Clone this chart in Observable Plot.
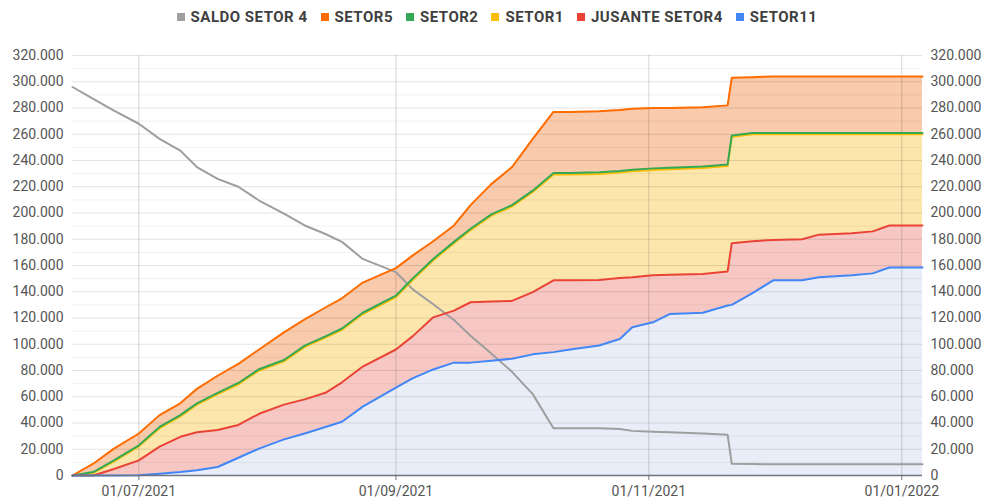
<!DOCTYPE html>
<html>
<head>
<meta charset="utf-8">
<script src="https://cdn.jsdelivr.net/npm/d3@7"></script>
<script src="https://cdn.jsdelivr.net/npm/@observablehq/plot@0.6"></script>
<style>
  html, body { margin: 0; padding: 0; background: #fff; }
  body { width: 986px; height: 502px; overflow: hidden; font-family: Roboto, "Noto Sans", sans-serif; }
  #legend { height: 34px; display: flex; justify-content: center; align-items: center; gap: 13px; padding-left: 8px; box-sizing: border-box; }
  .item { display: flex; align-items: center; font-size: 15px; font-weight: bold; color: #3f3f3f; letter-spacing: 0.5px; }
  .sw { width: 8px; height: 8px; margin-right: 6px; }
  #chart svg { display: block; }
</style>
</head>
<body>
<div id="legend"></div>
<div id="chart"></div>
<script>
// ---- data ----
const dates = [
  "2021-06-15","2021-06-20","2021-06-25","2021-07-01","2021-07-06","2021-07-11","2021-07-15",
  "2021-07-20","2021-07-25","2021-07-30","2021-08-05","2021-08-10","2021-08-15","2021-08-19",
  "2021-08-24","2021-09-01","2021-09-05","2021-09-10","2021-09-15","2021-09-19","2021-09-24",
  "2021-09-29","2021-10-04","2021-10-09","2021-10-13","2021-10-20","2021-10-25","2021-10-28",
  "2021-11-02","2021-11-06","2021-11-14","2021-11-20","2021-11-21","2021-11-26","2021-12-01",
  "2021-12-08","2021-12-12","2021-12-20","2021-12-25","2021-12-29","2022-01-06"
];
const saldoSetor4 = [
  296000, 287000, 278000, 268000, 256500, 247500, 235000,
  226000, 220000, 209500, 199500, 190500, 184000, 178000,
  165000, 155000, 142000, 130500, 118500, 106500, 93000,
  79000, 62000, 36000, 36000, 36000, 35500, 34000,
  33300, 33000, 32000, 31000, 9000, 8700, 8600,
  8500, 8500, 8500, 8500, 8500, 8500
];
const setor5 = [
  0, 9000, 20500, 32000, 46000, 55000, 66000,
  76000, 85000, 96000, 109000, 119000, 128000, 135000,
  147000, 158000, 167500, 178500, 190500, 206000, 222000,
  235000, 256500, 277000, 277000, 277500, 278500, 279500,
  280000, 280000, 280500, 282000, 303000, 303500, 304000,
  304000, 304000, 304000, 304000, 304000, 304000
];
const setor2 = [
  0, 2600, 11500, 23000, 37000, 46000, 55000,
  63000, 70500, 81000, 88000, 99000, 106000, 112000,
  124000, 137000, 150000, 165000, 178000, 188000, 199000,
  206000, 217000, 230500, 230500, 231000, 232000, 233000,
  234000, 234500, 235500, 237000, 259000, 261000, 261000,
  261000, 261000, 261000, 261000, 261000, 261000
];
const setor1 = [
  0, 2000, 10800, 22200, 36000, 45000, 54000,
  62000, 69500, 80000, 87000, 98000, 105000, 111000,
  123000, 136000, 149000, 164000, 177000, 187000, 198000,
  205000, 216000, 229300, 229300, 229800, 230800, 231800,
  232800, 233300, 234300, 235800, 258000, 260000, 260000,
  260000, 260000, 260000, 260000, 260000, 260000
];
const jusanteSetor4 = [
  0, 0, 5000, 11500, 22000, 29500, 33000,
  34600, 38500, 47000, 54000, 58000, 63000, 71000,
  83000, 96000, 106000, 120500, 125600, 132000, 132500,
  133000, 139700, 148700, 148700, 149000, 150500, 151000,
  152500, 153000, 153500, 155500, 177000, 178500, 179500,
  180000, 183500, 184600, 186000, 190500, 190500
];
const setor11 = [
  0, 0, 0, 200, 1300, 2600, 4000,
  6500, 13500, 20500, 27500, 32000, 37000, 41000,
  52500, 67000, 74000, 80800, 86000, 86000, 87500,
  89000, 92300, 94000, 96000, 99000, 104000, 113000,
  116700, 123000, 124000, 129500, 130000, 139000, 148700,
  148700, 151000, 152500, 154000, 158500, 158500
];
const seriesNames = ["SALDO SETOR 4", "SETOR5", "SETOR2", "SETOR1", "JUSANTE SETOR4", "SETOR11"];
const seriesColors = ["#9e9e9e", "#ff6d01", "#34a853", "#fbbc04", "#ea4335", "#4285f4"];
const yTicks = [0, 20000, 40000, 60000, 80000, 100000, 120000, 140000, 160000, 180000, 200000, 220000, 240000, 260000, 280000, 300000, 320000];
const yMinor = [10000, 30000, 50000, 70000, 90000, 110000, 130000, 150000, 170000, 190000, 210000, 230000, 250000, 270000, 290000, 310000];
const xTicks = ["2021-07-01", "2021-09-01", "2021-11-01", "2022-01-01"];
const xDomain = ["2021-06-15", "2022-01-06"];

// ---- build ----
const parse = d3.utcParse("%Y-%m-%d");
const table = dates.map((d, i) => ({
  date: parse(d),
  saldo: saldoSetor4[i], s5: setor5[i], s2: setor2[i], s1: setor1[i], jus: jusanteSetor4[i], s11: setor11[i]
}));
const fmt = d3.formatLocale({decimal: ",", thousands: ".", grouping: [3], currency: ["R$", ""]}).format(",.0f");
const xTickDates = xTicks.map(parse);

// legend
const legend = document.getElementById("legend");
seriesNames.forEach((n, i) => {
  const it = document.createElement("div");
  it.className = "item";
  const sw = document.createElement("span");
  sw.className = "sw";
  sw.style.background = seriesColors[i];
  it.appendChild(sw);
  it.appendChild(document.createTextNode(n));
  legend.appendChild(it);
});

const chart = Plot.plot({
  width: 986,
  height: 468,
  marginTop: 21,
  marginBottom: 27,
  marginLeft: 72,
  marginRight: 64,
  style: {fontFamily: "Roboto, 'Noto Sans', sans-serif", fontSize: "14px", color: "#555", background: "#fff"},
  x: {type: "utc", domain: xDomain.map(parse)},
  y: {domain: [0, 320000]},
  marks: [
    Plot.areaY(table, {x: "date", y1: 0, y2: "s11", fill: "#e8edf8"}),
    Plot.areaY(table, {x: "date", y1: "s11", y2: "jus", fill: "#f7c8c3"}),
    Plot.areaY(table, {x: "date", y1: "jus", y2: "s2", fill: "#fce6ac"}),
    Plot.areaY(table, {x: "date", y1: "s2", y2: "s5", fill: "#f9caac"}),
    Plot.ruleY(yMinor, {stroke: "#000", strokeOpacity: 0.055}),
    Plot.ruleY(yTicks.filter(v => v > 0), {stroke: "#000", strokeOpacity: 0.11}),
    Plot.ruleX(xTickDates, {stroke: "#000", strokeOpacity: 0.16}),
    Plot.lineY(table, {x: "date", y: "saldo", stroke: seriesColors[0], strokeWidth: 2}),
    Plot.lineY(table, {x: "date", y: "s5", stroke: seriesColors[1], strokeWidth: 2}),
    Plot.lineY(table, {x: "date", y: "s1", stroke: seriesColors[3], strokeWidth: 2}),
    Plot.lineY(table, {x: "date", y: "s2", stroke: seriesColors[2], strokeWidth: 2}),
    Plot.lineY(table, {x: "date", y: "jus", stroke: seriesColors[4], strokeWidth: 2}),
    Plot.lineY(table, {x: "date", y: "s11", stroke: seriesColors[5], strokeWidth: 2}),
    Plot.ruleY([0], {stroke: "#6b7480", strokeWidth: 1.3}),
    Plot.axisX({ticks: xTickDates, tickFormat: d3.utcFormat("%d/%m/%Y"), tickSize: 5, tickPadding: 6, stroke: "#6b7480", label: null}),
    Plot.axisY({anchor: "left", ticks: yTicks, tickFormat: fmt, tickSize: 0, tickPadding: 9, label: null}),
    Plot.axisY({anchor: "right", ticks: yTicks, tickFormat: fmt, tickSize: 0, tickPadding: 8, label: null})
  ]
});
document.getElementById("chart").appendChild(chart);
</script>
</body>
</html>
